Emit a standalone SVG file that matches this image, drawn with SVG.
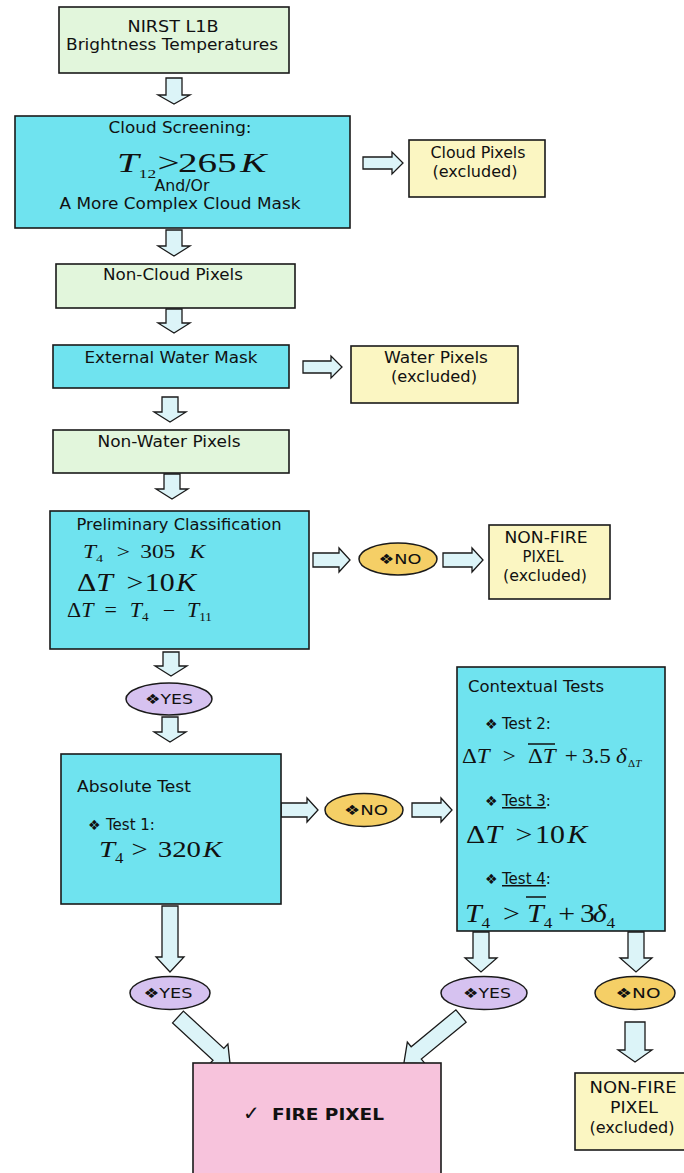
<svg xmlns="http://www.w3.org/2000/svg" width="684" height="1173" viewBox="0 0 684 1173">
<style>
.bx{stroke:#1a1a1a;stroke-width:1.6}
.g{fill:#e2f6dc}.c{fill:#6fe3ef}.y{fill:#fbf6c2}.p{fill:#f7c3dc}
.ar{fill:#dcf4f8;stroke:#1a1a1a;stroke-width:1.3;stroke-linejoin:miter}
.yes{fill:#d6c2f0;stroke:#1a1a1a;stroke-width:1.5}
.no{fill:#f5cf66;stroke:#1a1a1a;stroke-width:1.5}
.t{font-family:"DejaVu Sans","Liberation Sans",sans-serif;font-size:15px;fill:#111}
.tc{text-anchor:middle}
.e{font-family:"DejaVu Sans",sans-serif;font-size:14px;fill:#111;text-anchor:middle}
.m{font-family:"Liberation Serif","DejaVu Serif",serif;fill:#111}
.i{font-style:italic}
.ol{stroke:#111;stroke-width:1.5}
</style>

<g id="connectors">
<path class="ar" d="M166 78 H182 V95 H190 L174 104 L158 95 H166 Z"/>
<path class="ar" d="M166 230 H182 V246 H190 L174 256 L158 246 H166 Z"/>
<path class="ar" d="M166 309 H182 V323 H190 L174 333 L158 323 H166 Z"/>
<path class="ar" d="M162 397 H178 V412 H186 L170 422 L154 412 H162 Z"/>
<path class="ar" d="M164 474 H180 V489 H188 L172 499 L156 489 H164 Z"/>
<path class="ar" d="M163 652 H179 V666 H187 L171 676 L155 666 H163 Z"/>
<path class="ar" d="M162 717 H178 V732 H186 L170 742 L154 732 H162 Z"/>
<path class="ar" d="M162 906 H178 V957 H184 L170 972 L156 957 H162 Z"/>
<path class="ar" d="M473 932 H489 V958 H497 L481 972 L465 958 H473 Z"/>
<path class="ar" d="M628 932 H644 V958 H652 L636 972 L620 958 H628 Z"/>
<path class="ar" d="M625 1022 H645 V1050 H652 L635 1062 L618 1050 H625 Z"/>
<path class="ar" d="M363 157 H392 V152 L403 163 L392 174 V169 H363 Z"/>
<path class="ar" d="M303 361 H331 V356 L342 367 L331 378 V373 H303 Z"/>
<path class="ar" d="M313 553 H339 V548 L350 560 L339 572 V567 H313 Z"/>
<path class="ar" d="M443 553 H472 V548 L483 560 L472 572 V567 H443 Z"/>
<path class="ar" d="M281 803 H307 V798 L318 810 L307 822 V817 H281 Z"/>
<path class="ar" d="M412 803 H441 V798 L452 810 L441 822 V817 H412 Z"/>
<path class="ar" d="M0 -8 H55 V-14 L71 0 L55 14 V8 H0 Z" transform="translate(178 1017) rotate(42.7)"/>
<path class="ar" d="M0 -8 H58 V-14 L74 0 L58 14 V8 H0 Z" transform="translate(461 1016) rotate(140.5)"/>
</g>

<g id="n-nirst">
<rect class="bx g" x="59" y="7" width="230" height="66"/>
<text class="t tc" x="173" y="32" textLength="91" lengthAdjust="spacingAndGlyphs">NIRST L1B</text>
<text class="t tc" x="172" y="50" textLength="212" lengthAdjust="spacingAndGlyphs">Brightness Temperatures</text>
</g>

<g id="n-cloudscreen">
<rect class="bx c" x="15" y="116" width="335" height="112"/>
<text class="t tc" x="180" y="133" textLength="143" lengthAdjust="spacingAndGlyphs">Cloud Screening:</text>
<g transform="translate(117 172) scale(1.45 1)">
<text class="m" font-size="27"><tspan x="0" class="i">T</tspan><tspan dy="6" font-size="12">12</tspan><tspan x="28" y="0">&gt;</tspan><tspan x="42">265</tspan><tspan x="85" class="i">K</tspan></text>
</g>
<text class="t tc" x="182" y="191" font-size="13" textLength="55" lengthAdjust="spacingAndGlyphs">And/Or</text>
<text class="t tc" x="180" y="209" textLength="241" lengthAdjust="spacingAndGlyphs">A More Complex Cloud Mask</text>
</g>

<g id="n-cloudpix">
<rect class="bx y" x="409" y="140" width="136" height="57"/>
<text class="t tc" x="478" y="158" textLength="95" lengthAdjust="spacingAndGlyphs">Cloud Pixels</text>
<text class="t tc" x="475" y="177" textLength="85" lengthAdjust="spacingAndGlyphs">(excluded)</text>
</g>

<g id="n-noncloud">
<rect class="bx g" x="56" y="264" width="239" height="44"/>
<text class="t tc" x="173" y="280" textLength="140" lengthAdjust="spacingAndGlyphs">Non-Cloud Pixels</text>
</g>

<g id="n-watermask">
<rect class="bx c" x="53" y="345" width="236" height="43"/>
<text class="t tc" x="171" y="363" textLength="173" lengthAdjust="spacingAndGlyphs">External Water Mask</text>
</g>

<g id="n-waterpix">
<rect class="bx y" x="351" y="346" width="167" height="57"/>
<text class="t tc" x="436" y="363" textLength="104" lengthAdjust="spacingAndGlyphs">Water Pixels</text>
<text class="t tc" x="434" y="382" textLength="86" lengthAdjust="spacingAndGlyphs">(excluded)</text>
</g>

<g id="n-nonwater">
<rect class="bx g" x="53" y="430" width="236" height="43"/>
<text class="t tc" x="169" y="447" textLength="143" lengthAdjust="spacingAndGlyphs">Non-Water Pixels</text>
</g>

<g id="n-prelim">
<rect class="bx c" x="50" y="511" width="259" height="138"/>
<text class="t tc" x="179" y="530" textLength="205" lengthAdjust="spacingAndGlyphs">Preliminary Classification</text>
<g transform="translate(83 558) scale(1.3 1)">
<text class="m" font-size="18"><tspan x="0" class="i">T</tspan><tspan dy="4" font-size="11">4</tspan><tspan x="26" y="0">&gt;</tspan><tspan x="44">305</tspan><tspan x="82" class="i">K</tspan></text>
</g>
<g transform="translate(77 591) scale(1.15 1)">
<text class="m" font-size="26"><tspan x="0">Δ<tspan class="i">T</tspan></tspan><tspan x="43">&gt;</tspan><tspan x="59">10</tspan><tspan x="86" class="i">K</tspan></text>
</g>
<g transform="translate(67 617) scale(1.1 1)">
<text class="m" font-size="20"><tspan x="0">Δ<tspan class="i">T</tspan></tspan><tspan x="34">=</tspan><tspan x="57" class="i">T</tspan><tspan dy="4" font-size="12">4</tspan><tspan x="87" y="0">−</tspan><tspan x="109" class="i">T</tspan><tspan dy="4" font-size="12">11</tspan></text>
</g>
</g>

<g id="n-no1">
<ellipse class="no" cx="398" cy="559" rx="39" ry="16"/>
<text class="e" x="400" y="564" textLength="43" lengthAdjust="spacingAndGlyphs">❖NO</text>
</g>

<g id="n-nonfire1">
<rect class="bx y" x="489" y="525" width="121" height="74"/>
<text class="t tc" x="546" y="543" textLength="83" lengthAdjust="spacingAndGlyphs">NON-FIRE</text>
<text class="t tc" x="543" y="562" textLength="41" lengthAdjust="spacingAndGlyphs">PIXEL</text>
<text class="t tc" x="545" y="581" textLength="84" lengthAdjust="spacingAndGlyphs">(excluded)</text>
</g>

<g id="n-yes1">
<ellipse class="yes" cx="169" cy="699" rx="43" ry="16"/>
<text class="e" x="169" y="704" textLength="48" lengthAdjust="spacingAndGlyphs">❖YES</text>
</g>

<g id="n-absolute">
<rect class="bx c" x="61" y="754" width="220" height="150"/>
<text class="t" x="77" y="792" textLength="114" lengthAdjust="spacingAndGlyphs">Absolute Test</text>
<text class="t" x="88" y="830"><tspan font-size="14">❖</tspan><tspan x="106">Test 1:</tspan></text>
<g transform="translate(99 857) scale(1.2 1)">
<text class="m" font-size="24"><tspan x="0" class="i">T</tspan><tspan dy="6" font-size="14">4</tspan><tspan x="27" y="0">&gt;</tspan><tspan x="49">320</tspan><tspan x="86.5" class="i">K</tspan></text>
</g>
</g>

<g id="n-no2">
<ellipse class="no" cx="364" cy="810" rx="39" ry="16.5"/>
<text class="e" x="366" y="815" textLength="44" lengthAdjust="spacingAndGlyphs">❖NO</text>
</g>

<g id="n-contextual">
<rect class="bx c" x="457" y="667" width="208" height="264"/>
<text class="t" x="468" y="692" textLength="136" lengthAdjust="spacingAndGlyphs">Contextual Tests</text>
<text class="t" x="485" y="729"><tspan font-size="14">❖</tspan><tspan x="502">Test 2:</tspan></text>
<g transform="translate(462 763) scale(1.1 1)">
<text class="m" font-size="21"><tspan x="0">Δ<tspan class="i">T</tspan></tspan><tspan x="37">&gt;</tspan><tspan x="60">Δ<tspan class="i">T</tspan></tspan><tspan x="93.5">+</tspan><tspan x="109">3.5</tspan><tspan x="140" class="i">δ</tspan></text>
<text class="m" font-size="10" x="151" y="4">Δ<tspan class="i">T</tspan></text>
</g>
<line class="ol" x1="528" y1="744" x2="555" y2="744"/>
<text class="t" x="485" y="806"><tspan font-size="14">❖</tspan><tspan x="502" text-decoration="underline">Test 3</tspan><tspan>:</tspan></text>
<g transform="translate(466 843) scale(1.15 1)">
<text class="m" font-size="26"><tspan x="0">Δ<tspan class="i">T</tspan></tspan><tspan x="43">&gt;</tspan><tspan x="60">10</tspan><tspan x="88" class="i">K</tspan></text>
</g>
<text class="t" x="485" y="884"><tspan font-size="14">❖</tspan><tspan x="502" text-decoration="underline">Test 4</tspan><tspan>:</tspan></text>
<g transform="translate(465 922) scale(1.15 1)">
<text class="m" font-size="26"><tspan x="0" class="i">T</tspan><tspan dy="6" font-size="15">4</tspan><tspan x="33" y="0">&gt;</tspan><tspan x="54" class="i">T</tspan><tspan dy="6" font-size="15">4</tspan><tspan x="81" y="0">+</tspan><tspan x="100">3</tspan><tspan x="111" class="i">δ</tspan><tspan dy="6" font-size="15">4</tspan></text>
</g>
<line class="ol" x1="526" y1="897" x2="546" y2="897"/>
</g>

<g id="n-yes2">
<ellipse class="yes" cx="170" cy="993" rx="40" ry="16.5"/>
<text class="e" x="168" y="998" textLength="49" lengthAdjust="spacingAndGlyphs">❖YES</text>
</g>

<g id="n-yes3">
<ellipse class="yes" cx="484" cy="993" rx="43" ry="16.5"/>
<text class="e" x="487" y="998" textLength="48" lengthAdjust="spacingAndGlyphs">❖YES</text>
</g>

<g id="n-no3">
<ellipse class="no" cx="635" cy="993" rx="40" ry="16.5"/>
<text class="e" x="638" y="998" textLength="45" lengthAdjust="spacingAndGlyphs">❖NO</text>
</g>

<g id="n-fire">
<rect class="bx p" x="193" y="1063" width="248" height="120"/>
<text class="t" x="243" y="1120"><tspan font-size="20">✓</tspan><tspan x="272" font-weight="bold" textLength="112" lengthAdjust="spacingAndGlyphs">FIRE PIXEL</tspan></text>
</g>

<g id="n-nonfire2">
<rect class="bx y" x="575" y="1073" width="115" height="77"/>
<text class="t tc" x="633" y="1093" textLength="87" lengthAdjust="spacingAndGlyphs">NON-FIRE</text>
<text class="t tc" x="634" y="1113" textLength="48" lengthAdjust="spacingAndGlyphs">PIXEL</text>
<text class="t tc" x="632" y="1133" textLength="85" lengthAdjust="spacingAndGlyphs">(excluded)</text>
</g>
</svg>
